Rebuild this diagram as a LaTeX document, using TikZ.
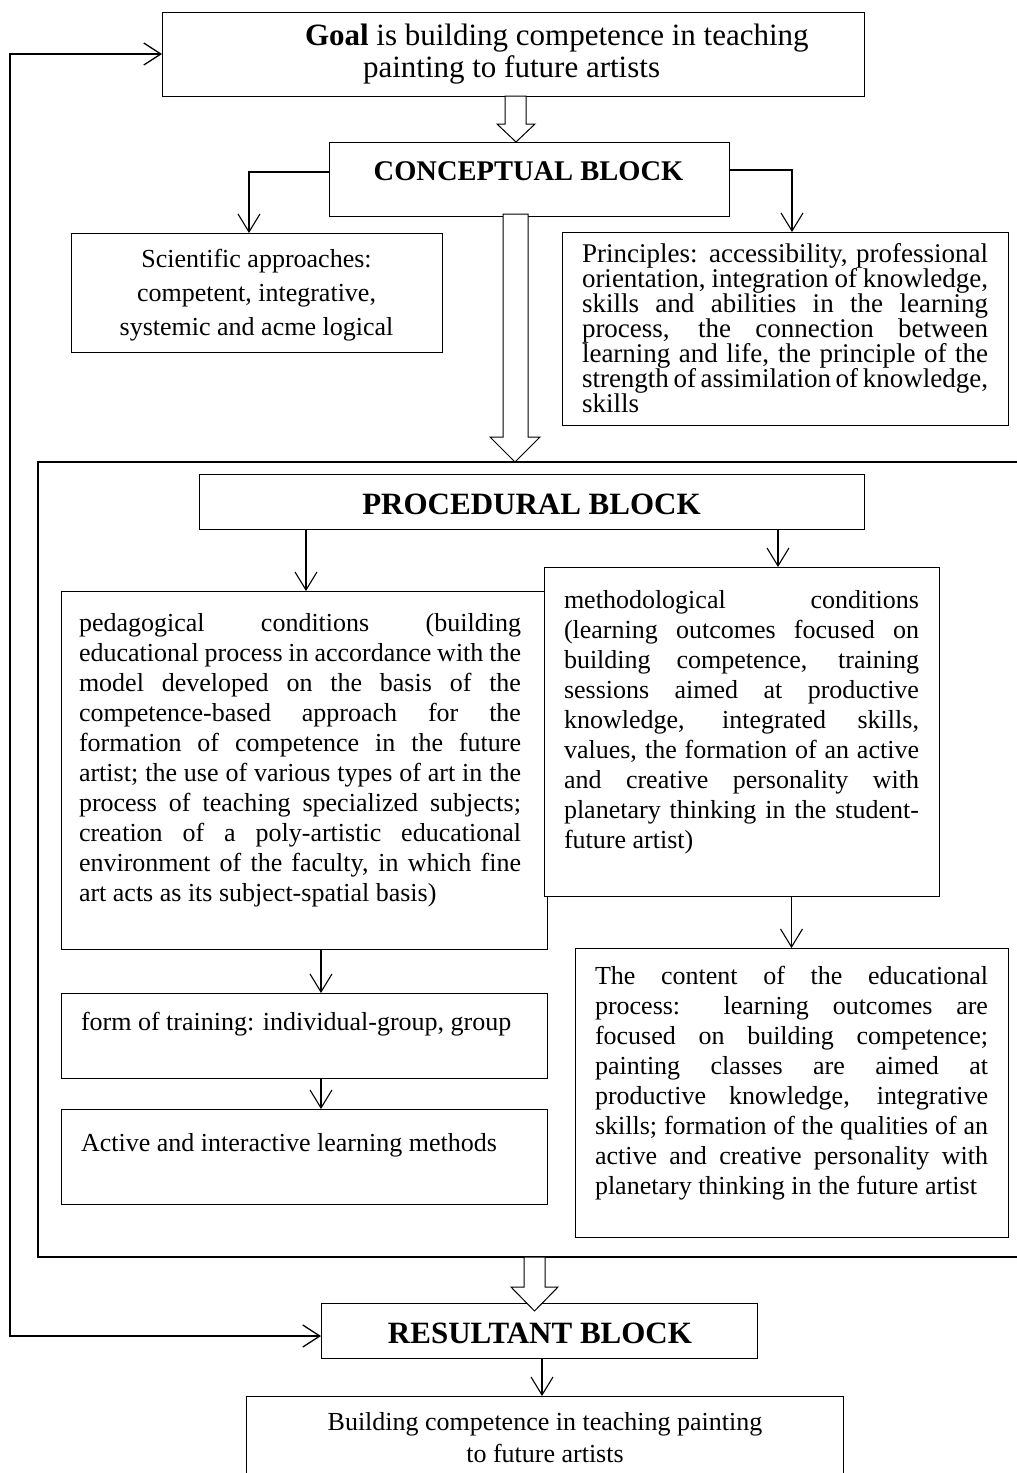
\documentclass[tikz,border=0pt]{standalone}
\usepackage{fontspec}
\setmainfont{Liberation Serif}
\usetikzlibrary{arrows.meta,calc}
\newcommand{\jl}[2]{\makebox[#1][s]{#2}}
\begin{document}
\begin{tikzpicture}[x=1pt,y=-1pt,
  box/.style={draw, line width=1pt, fill=white, inner sep=0pt, outer sep=0pt},
  txt/.style={inner sep=0pt, outer sep=0pt, align=left},
  conn/.style={line width=1.2pt, -{Straight Barb[length=18pt,width=22pt,line width=1.1pt]}},
  loopline/.style={line width=1.8pt, {Straight Barb[length=17pt,width=22pt,line width=1.3pt]}-{Straight Barb[length=17pt,width=22pt,line width=1.3pt]}},
  hollow/.style={draw, line width=1pt, fill=white, line join=miter},
  frameline/.style={line width=2.2pt},
  f26/.style={font=\fontsize{26pt}{30pt}\selectfont},
]
\useasboundingbox[fill=white] (0,0) rectangle (1017,1473);

% procedural frame
\coordinate (frTR) at (1030,462);
\coordinate (frTL) at (38,462);
\coordinate (frBL) at (38,1257);
\coordinate (frBR) at (1030,1257);
\draw[frameline] (frTR) -- (frTL) -- (frBL) -- (frBR);

% boxes
\node[box, minimum width=702pt, minimum height=84pt] (goal) at (513,54) {};
\node[box, minimum width=400pt, minimum height=74pt] (concept) at (529,179) {};
\node[box, minimum width=371pt, minimum height=119pt] (sci) at (256.5,292.5) {};
\node[box, minimum width=446pt, minimum height=193pt] (princ) at (785,328.5) {};
\node[box, minimum width=665pt, minimum height=55pt] (proc) at (531.5,501.5) {};
\node[box, minimum width=486pt, minimum height=358pt] (ped) at (304,770) {};
\node[box, minimum width=395pt, minimum height=329pt] (meth) at (741.5,731.5) {};
\node[box, minimum width=433pt, minimum height=289pt] (content) at (791.5,1092.5) {};
\node[box, minimum width=486pt, minimum height=85pt] (form) at (304,1035.5) {};
\node[box, minimum width=486pt, minimum height=95pt] (active) at (304,1156.5) {};
\node[box, minimum width=436pt, minimum height=55pt] (res) at (539,1330.5) {};
\node[box, minimum width=597pt, minimum height=104pt] (final) at (544.5,1448) {};

% texts
\node[txt, anchor=north west, font=\fontsize{31pt}{32pt}\selectfont] (goalt) at (305,24)
  {\textbf{Goal} is building competence in teaching\\\hspace*{58pt}painting to future artists};
\node[txt, anchor=base, font=\fontsize{28.5pt}{30pt}\selectfont\bfseries] (conceptt) at (528.5,180) {CONCEPTUAL BLOCK};
\node[txt, align=center, anchor=north, font=\fontsize{26pt}{34pt}\selectfont] (scit) at (256.5,249)
  {Scientific approaches:\\competent, integrative,\\systemic and acme logical};
\node[txt, anchor=north west, font=\fontsize{27pt}{25pt}\selectfont] (princt) at (582,243.5)
  {\jl{406pt}{Principles: accessibility, professional}\\
   \jl{406pt}{orientation, integration of knowledge,}\\
   \jl{406pt}{skills and abilities in the learning}\\
   \jl{406pt}{process, the connection between}\\
   \jl{406pt}{learning and life, the principle of the}\\
   \jl{406pt}{strength of assimilation of knowledge,}\\
   skills};
\node[txt, anchor=base, font=\fontsize{31pt}{32pt}\selectfont\bfseries] (proct) at (531.5,514) {PROCEDURAL BLOCK};
\node[txt, anchor=north west, f26] (pedt) at (79,613)
  {\jl{442pt}{pedagogical conditions (building}\\
   \jl{442pt}{educational process in accordance with the}\\
   \jl{442pt}{model developed on the basis of the}\\
   \jl{442pt}{competence-based approach for the}\\
   \jl{442pt}{formation of competence in the future}\\
   \jl{442pt}{artist; the use of various types of art in the}\\
   \jl{442pt}{process of teaching specialized subjects;}\\
   \jl{442pt}{creation of a poly-artistic educational}\\
   \jl{442pt}{environment of the faculty, in which fine}\\
   art acts as its subject-spatial basis)};
\node[txt, anchor=north west, f26] (metht) at (564,590)
  {\jl{355pt}{methodological conditions}\\
   \jl{355pt}{(learning outcomes focused on}\\
   \jl{355pt}{building competence, training}\\
   \jl{355pt}{sessions aimed at productive}\\
   \jl{355pt}{knowledge, integrated skills,}\\
   \jl{355pt}{values, the formation of an active}\\
   \jl{355pt}{and creative personality with}\\
   \jl{355pt}{planetary thinking in the student-}\\
   future artist)};
\node[txt, anchor=north west, f26] (contentt) at (595,966)
  {\jl{393pt}{The content of the educational}\\
   \jl{393pt}{process: learning outcomes are}\\
   \jl{393pt}{focused on building competence;}\\
   \jl{393pt}{painting classes are aimed at}\\
   \jl{393pt}{productive knowledge, integrative}\\
   \jl{393pt}{skills; formation of the qualities of an}\\
   \jl{393pt}{active and creative personality with}\\
   planetary thinking in the future artist};
\node[txt, anchor=base west, f26] (formt) at (81,1030) {form of training: individual-group, group};
\node[txt, anchor=base west, f26] (activet) at (81,1151) {Active and interactive learning methods};
\node[txt, anchor=base, font=\fontsize{31pt}{32pt}\selectfont\bfseries] (rest) at (540,1343) {RESULTANT BLOCK};
\node[txt, align=center, anchor=north, font=\fontsize{26pt}{32pt}\selectfont] (finalt) at (545,1412)
  {Building competence in teaching painting\\to future artists};

% hollow block arrows
\draw[hollow] (505,96) -- (505,124) -- (497,124) -- (516,142) -- (535,124) -- (526,124) -- (526,96) -- cycle;
\draw[hollow] (503,214) -- (503,437) -- (490,437) -- (515,462) -- (540,437) -- (528,437) -- (528,214) -- cycle;
\draw[hollow] (524,1257) -- (524,1287) -- (511,1287) -- (534.5,1311) -- (558,1287) -- (545,1287) -- (545,1257) -- cycle;

% connectors
\draw[conn] ([yshift=7pt]concept.west) -| ([xshift=-7.5pt]sci.north);
\draw[conn] ([yshift=9pt]concept.east) -| ([xshift=7pt]princ.north);
\draw[conn] ([xshift=2pt]ped.north |- proc.south) -- ([xshift=2pt]ped.north);
\draw[conn] ([xshift=36.5pt]meth.north |- proc.south) -- ([xshift=36.5pt]meth.north);
\draw[conn] (content.north |- meth.south) -- (content.north);
\draw[conn] ([xshift=17pt]form.north |- ped.south) -- ([xshift=17pt]form.north);
\draw[conn] ([xshift=17pt]active.north |- form.south) -- ([xshift=17pt]active.north);
\draw[conn] ([xshift=-2.5pt]final.north |- res.south) -- ([xshift=-2.5pt]final.north);

% feedback loop
\coordinate (lpT) at (10,54);
\coordinate (lpB) at (10,1336);
\draw[loopline] (goal.west) -- (lpT) -- (lpB) -- ([yshift=-5.5pt]res.west);
\end{tikzpicture}
\end{document}
